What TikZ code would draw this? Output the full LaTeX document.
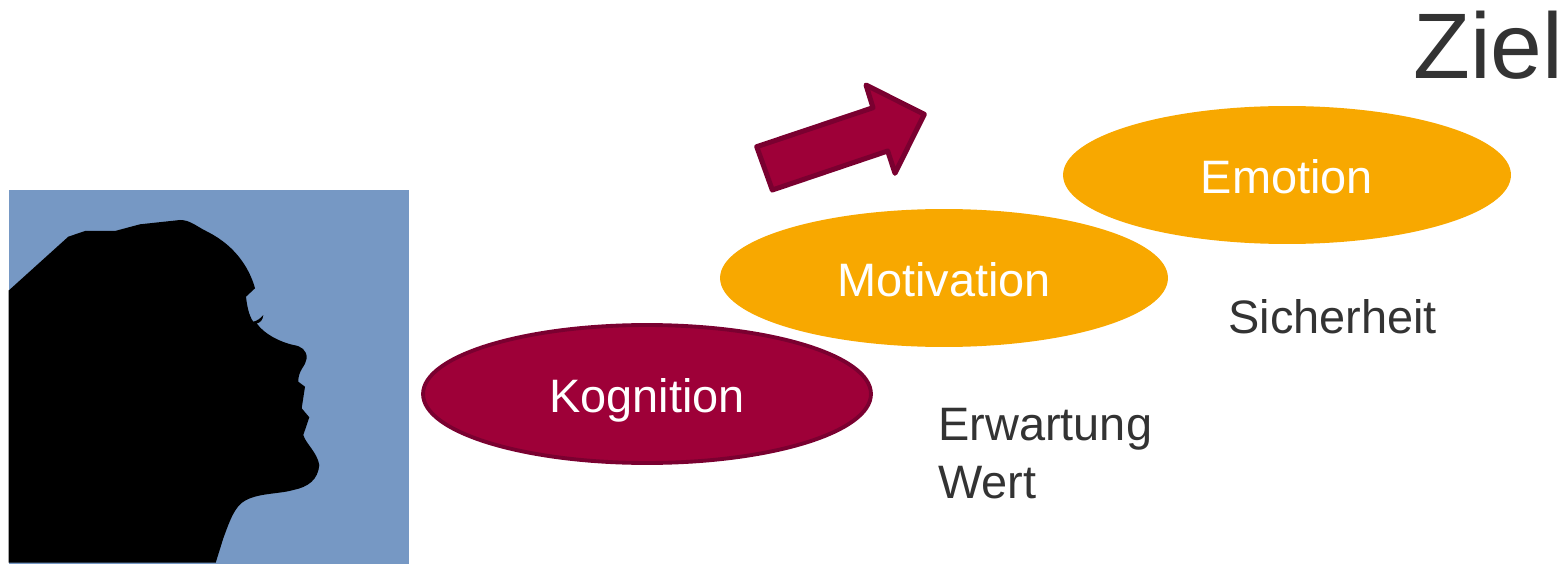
\documentclass[tikz,border=0pt]{standalone}
\usepackage{fontspec}
\setmainfont{Liberation Sans}
\usetikzlibrary{shapes,shapes.geometric}
\definecolor{crimson}{HTML}{9E0038}
\definecolor{crimsonline}{HTML}{7A0030}
\definecolor{amber}{HTML}{F8A800}
\definecolor{skin}{HTML}{7698C4}
\definecolor{schrift}{HTML}{333333}
\tikzset{
  blob/.style={ellipse,minimum width=8.96cm,minimum height=2.76cm,inner sep=0pt,text=white,
    font=\fontsize{26.7pt}{32pt}\selectfont,text height=21.6pt,text depth=0pt},
  hint/.style={anchor=base west,inner sep=0pt,text=schrift,font=\fontsize{26.7pt}{32pt}\selectfont}
}
\begin{document}
\begin{tikzpicture}[x=.02cm,y=-.02cm]
\useasboundingbox (0,0) rectangle (1568,564);
\fill[skin] (8.5,190) rectangle (408.5,564);
\fill[black] (8.5,290.7) -- (68.3,236.7) -- (85,231) -- (115,231) -- (140,224.3) -- (180,220)
  .. controls (190,220) and (196,226) .. (206,231) .. controls (222,239) and (236,250) .. (246.7,268.3)
  .. controls (251,276) and (254,284) .. (255,288.3) -- (246,296.7)
  .. controls (247,306) and (249,316) .. (253.3,321.7)
  .. controls (257,321) and (261,318) .. (263.3,315) .. controls (263,320) and (260,323) .. (256.7,323.3)
  .. controls (264,334) and (280,342) .. (293.3,345) .. controls (301,346) and (307,350) .. (306.7,358.3)
  .. controls (306,366) and (298,370) .. (298.3,381.7) -- (305,386.7) -- (301.7,408.3) -- (309.3,417.3)
  -- (303.3,435) .. controls (306,444) and (317,452) .. (319.3,465)
  .. controls (318,480) and (308,487) .. (293.3,490) .. controls (280,494) and (258,493) .. (245,500.7)
  .. controls (235,506) and (230,520) .. (223.3,538.3) -- (215.7,562.7) -- (8.5,562.7) -- cycle;
\draw[crimsonline,fill=crimson,line width=2.85pt,line join=round] (756.7,146.7) -- (873,107.7) -- (866,85) -- (924.3,114.3)
  -- (895,173.3) -- (887.7,151) -- (772.3,190) -- cycle;
\node[blob,fill=crimson,draw=crimsonline,line width=2.2pt] (kognition) at (647,394) {Kognition};
\node[blob,fill=amber] (motivation) at (944,278) {Motivation};
\node[blob,fill=amber] (emotion) at (1287,175) {Emotion};
\node[hint] (erwartung) at (938,440) {Erwartung};
\node[hint] (wert) at (938,498) {Wert};
\node[hint] (sicherheit) at (1228,333) {Sicherheit};
\node[hint,font=\fontsize{53pt}{60pt}\selectfont] (ziel) at (1413,79) {Ziel};
\end{tikzpicture}
\end{document}
